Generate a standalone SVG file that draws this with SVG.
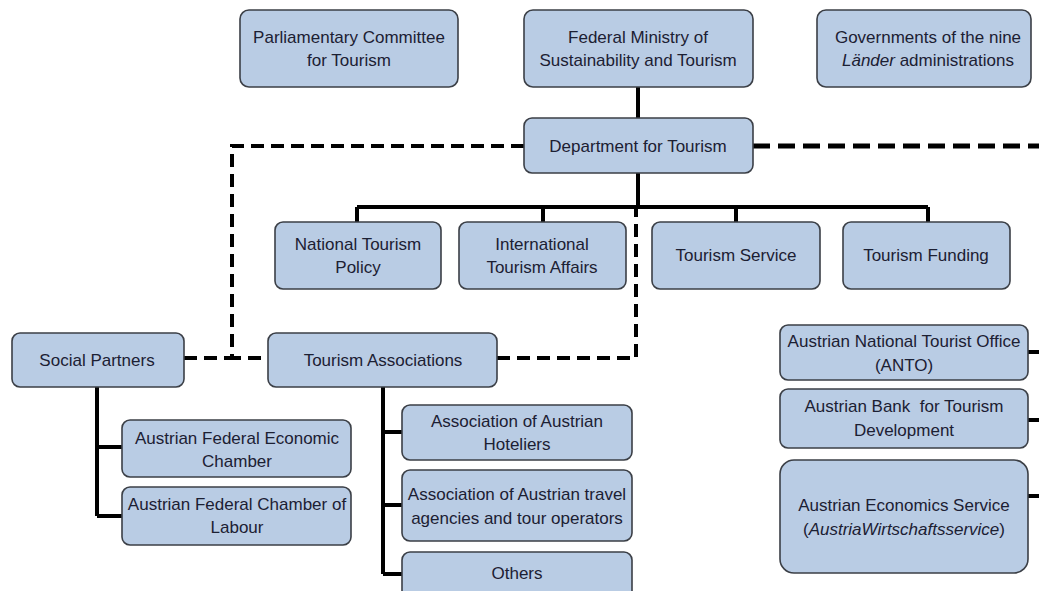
<svg xmlns="http://www.w3.org/2000/svg" width="1039" height="591" viewBox="0 0 1039 591">
<style>
.box{fill:#b9cce4;stroke:#3b3f46;stroke-width:1.6}
.t{font-family:"Liberation Sans",Arial,sans-serif;font-size:17px;fill:#1c2033;text-anchor:middle}
.solid{stroke:#000;stroke-width:4;fill:none}
.dash{stroke:#000;stroke-width:4;fill:none;stroke-dasharray:13 7}
.dashb{stroke:#000;stroke-width:5;fill:none;stroke-dasharray:17 8}
</style>
<rect width="1039" height="591" fill="#fff"/>
<g id="connectors">
<path class="solid" d="M638 87V118M638 173V207M357 207H928M357 207V222M543 207V222M736 207V222M928 207V222"/>
<path class="solid" d="M97 387V516M97 447H122M97 516H122"/>
<path class="solid" d="M383 387V574M383 432H402M383 505H402M383 574H402"/>
<path class="solid" d="M1028 352H1039M1028 420H1039M1028 496H1039"/>
<path class="dash" d="M524 146H232V358H268"/>
<path class="dash" d="M184 358H232"/>
<path class="dash" d="M497 358H636V209"/>
<path class="dashb" d="M753 146H1039"/>
</g>
<g id="n-parl"><rect class="box" x="240" y="10" width="218" height="77" rx="9"/><text class="t" x="349" y="43">Parliamentary Committee</text><text class="t" x="349" y="66">for Tourism</text></g>
<g id="n-ministry"><rect class="box" x="524" y="10" width="229" height="77" rx="9"/><text class="t" x="638" y="43">Federal Ministry of</text><text class="t" x="638" y="66">Sustainability and Tourism</text></g>
<g id="n-laender"><rect class="box" x="817" y="10" width="214" height="77" rx="9"/><text class="t" x="928" y="43">Governments of the nine</text><text class="t" x="928" y="66"><tspan font-style="italic">Länder</tspan> administrations</text></g>
<g id="n-dept"><rect class="box" x="524" y="118" width="229" height="55" rx="8"/><text class="t" x="638" y="152">Department for Tourism</text></g>
<g id="n-natpol"><rect class="box" x="275" y="222" width="166" height="67" rx="8"/><text class="t" x="358" y="250">National Tourism</text><text class="t" x="358" y="273">Policy</text></g>
<g id="n-intl"><rect class="box" x="459" y="222" width="167" height="67" rx="8"/><text class="t" x="542" y="250">International</text><text class="t" x="542" y="273">Tourism Affairs</text></g>
<g id="n-service"><rect class="box" x="652" y="222" width="168" height="67" rx="8"/><text class="t" x="736" y="261">Tourism Service</text></g>
<g id="n-funding"><rect class="box" x="843" y="222" width="167" height="67" rx="8"/><text class="t" x="926" y="261">Tourism Funding</text></g>
<g id="n-social"><rect class="box" x="12" y="333" width="172" height="54" rx="8"/><text class="t" x="97" y="366">Social Partners</text></g>
<g id="n-assoc"><rect class="box" x="268" y="333" width="229" height="54" rx="8"/><text class="t" x="383" y="366">Tourism Associations</text></g>
<g id="n-econ"><rect class="box" x="122" y="420" width="229" height="57" rx="8"/><text class="t" x="237" y="444">Austrian Federal Economic</text><text class="t" x="237" y="467">Chamber</text></g>
<g id="n-labour"><rect class="box" x="122" y="487" width="229" height="58" rx="8"/><text class="t" x="237" y="510">Austrian Federal Chamber of</text><text class="t" x="237" y="533">Labour</text></g>
<g id="n-hotel"><rect class="box" x="402" y="405" width="230" height="55" rx="8"/><text class="t" x="517" y="427">Association of Austrian</text><text class="t" x="517" y="450">Hoteliers</text></g>
<g id="n-travel"><rect class="box" x="402" y="470" width="230" height="71" rx="8"/><text class="t" x="517" y="500">Association of Austrian travel</text><text class="t" x="517" y="524">agencies and tour operators</text></g>
<g id="n-others"><rect class="box" x="402" y="552" width="230" height="50" rx="8"/><text class="t" x="517" y="579">Others</text></g>
<g id="n-anto"><rect class="box" x="780" y="325" width="248" height="55" rx="8"/><text class="t" x="904" y="347">Austrian National Tourist Office</text><text class="t" x="904" y="371">(ANTO)</text></g>
<g id="n-bank"><rect class="box" x="780" y="389" width="248" height="59" rx="8"/><text class="t" x="904" y="412">Austrian Bank&#160; for Tourism</text><text class="t" x="904" y="436">Development</text></g>
<g id="n-aws"><rect class="box" x="780" y="460" width="248" height="113" rx="14"/><text class="t" x="904" y="511">Austrian Economics Service</text><text class="t" x="904" y="535">(<tspan font-style="italic">AustriaWirtschaftsservice</tspan>)</text></g>
</svg>
